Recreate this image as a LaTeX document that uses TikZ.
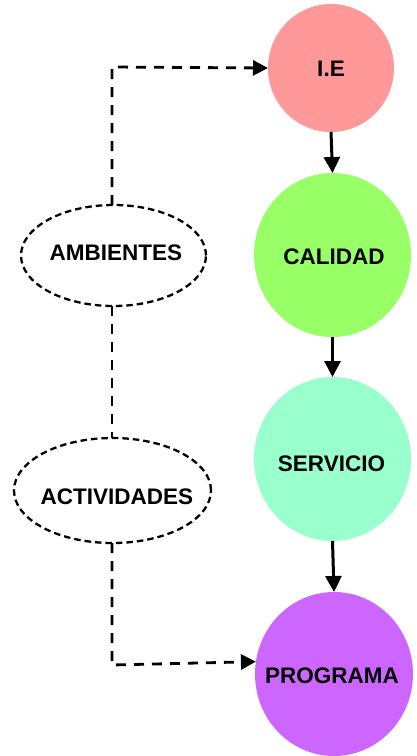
\documentclass[tikz,border=0pt]{standalone}
\usepackage{fontspec}
\setmainfont{Liberation Sans}
\usetikzlibrary{arrows.meta,shapes.geometric}
\begin{document}
\begin{tikzpicture}[x=1pt,y=-1pt,
  lbl/.style={font=\bfseries\fontsize{22.5}{27}\selectfont, inner sep=0pt, outer sep=0pt, text depth=0pt},
  circ/.style={lbl, ellipse, minimum width=157pt, minimum height=164pt},
  oval/.style={lbl, ellipse, draw, line width=2.3pt, dash pattern=on 6.5pt off 4pt},
  flow/.style={line width=3pt, -{Triangle[length=16pt,width=16pt]}},
  link/.style={line width=2.8pt, dash pattern=on 10pt off 8pt},
  linkarrow/.style={link, -{Triangle[length=15pt,width=15pt]}}
]
\useasboundingbox (0,0) rectangle (417,756);

\node[circ, fill={rgb,255:red,255;green,153;blue,153}, minimum width=126pt, minimum height=128pt, text height=16.2pt] (ie) at (331,68) {\makebox[0pt]{I.E}};
\node[circ, fill={rgb,255:red,153;green,255;blue,102}, text height=18.2pt] (cal) at (332.5,255) {\makebox[0pt]{\hspace*{3pt}CALIDAD}};
\node[circ, fill={rgb,255:red,153;green,255;blue,204}, text height=24.2pt] (ser) at (332.5,459) {\makebox[0pt]{\hspace*{-2pt}SERVICIO}};
\node[circ, fill={rgb,255:red,204;green,102;blue,255}, minimum width=158pt, text height=18.2pt] (pro) at (334,674) {\makebox[0pt]{\hspace*{-4pt}PROGRAMA}};

\node[oval, minimum width=185pt, minimum height=101pt, text height=10.2pt] (amb) at (113.5,255.5) {\makebox[0pt]{\hspace*{5pt}AMBIENTES}};
\node[oval, minimum width=197pt, minimum height=105pt, text height=28.2pt] (act) at (112.5,490.5) {\makebox[0pt]{\hspace*{9pt}ACTIVIDADES}};

\draw[flow] (ie.south) -- (cal.north);
\draw[flow] (cal.south) -- (ser.north);
\draw[flow] (ser.south) -- (pro.north);

\coordinate (c1) at (112,67);
\coordinate (c2) at (112,665);
\draw[linkarrow] (amb.north -| c1) -- (c1) -- (ie.west);
\draw[link] (amb.south -| c1) -- (act.north -| c1);
\draw[linkarrow] (act.south -| c2) -- (c2) -- (pro.171);
\end{tikzpicture}
\end{document}
